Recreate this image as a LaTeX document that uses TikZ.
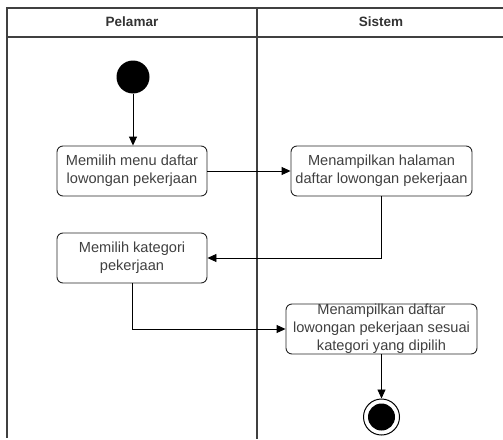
\documentclass[tikz,border=0pt]{standalone}
\usepackage{fontspec}
\setmainfont{Liberation Sans}
\usetikzlibrary{arrows.meta}

\tikzset{
  lane/.style={line width=1.2pt, draw=black!75},
  act/.style={draw=black!85, line width=0.9pt, rounded corners=6pt,
    minimum height=50pt, inner sep=0pt, align=center, text=black!75,
    font=\fontsize{14.6}{18}\selectfont},
  flow/.style={line width=0.9pt, -{Triangle[length=9pt,width=8pt]}},
  lanehead/.style={text=black!80, font=\bfseries\fontsize{13.5}{16}\selectfont}
}

\begin{document}
\begin{tikzpicture}[x=1pt,y=-1pt]
\useasboundingbox (0,0) rectangle (503,439);
% swimlanes
\draw[lane] (503,8) -- (7,8) -- (7,438);
\draw[lane] (7,37) -- (503,37);
\draw[lane] (257,8) -- (257,439);
\node[lanehead] (pelamar) at (132,22) {Pelamar};
\node[lanehead] (sistem) at (381,22) {Sistem};

% actions
\node[circle, fill=black, minimum size=33pt, inner sep=0pt] (start) at (133,77) {};
\node[act, minimum width=150pt] (menu) at (132,171) {Memilih menu daftar\\lowongan pekerjaan};
\node[act, minimum width=181pt] (halaman) at (381.5,171) {Menampilkan halaman\\daftar lowongan pekerjaan};
\node[act, minimum width=150pt] (kategori) at (132,258) {Memilih kategori\\pekerjaan};
\node[act, minimum width=191pt] (hasil) at (381.5,329) {Menampilkan daftar\\lowongan pekerjaan sesuai\\kategori yang dipilih};
\node[circle, draw=black, line width=1pt, minimum size=36pt, inner sep=0pt] (end) at (381.5,417) {};
\node[circle, fill=black, minimum size=27pt, inner sep=0pt] (endin) at (end.center) {};

% flows
\draw[flow] (start) -- (start |- menu.north);
\draw[flow] (menu) -- (halaman);
\draw[flow] (halaman.south) |- (kategori.east);
\draw[flow] (kategori.south) |- (hasil.west);
\draw[flow] (hasil) -- (end);
\end{tikzpicture}
\end{document}
